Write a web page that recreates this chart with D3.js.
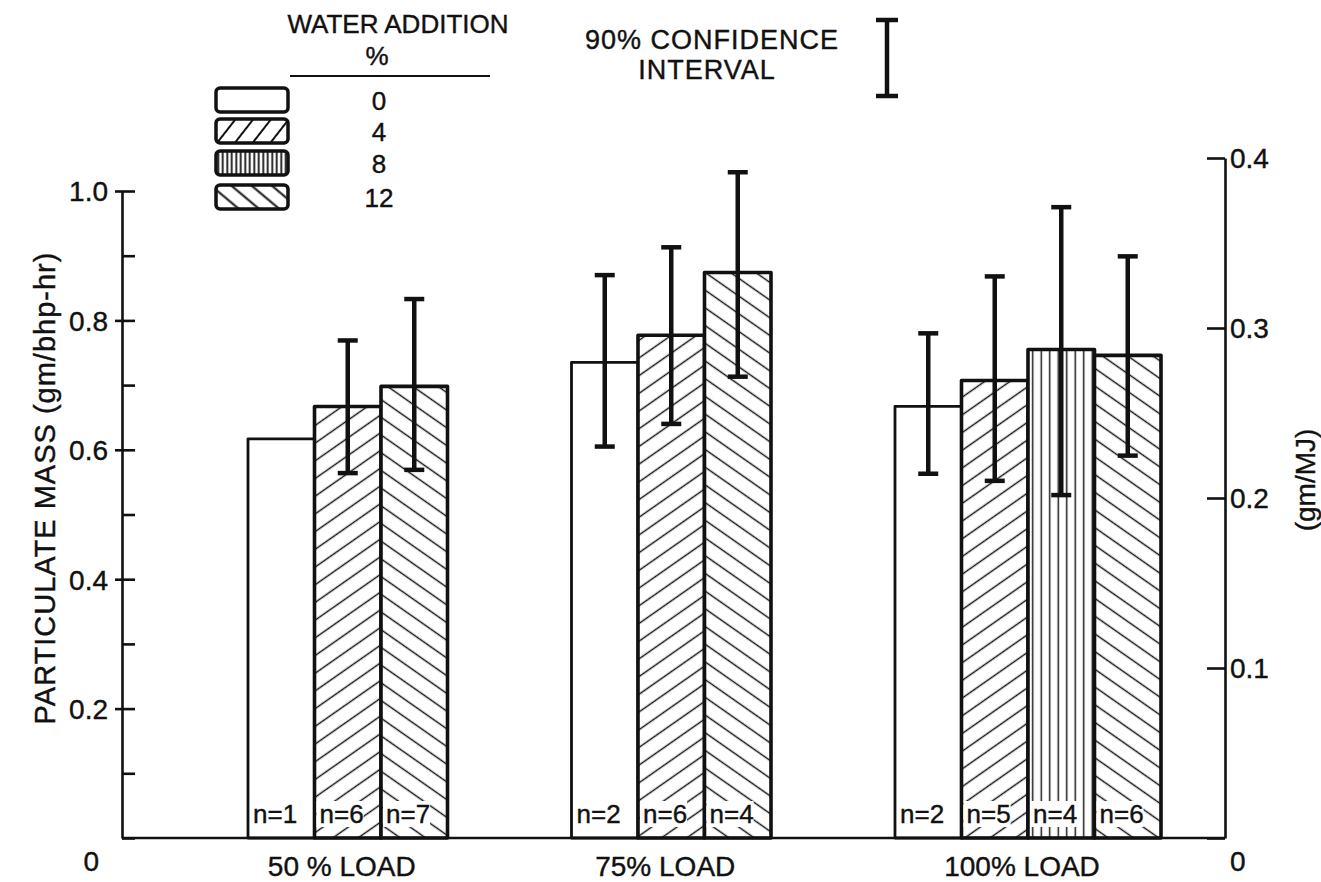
<!DOCTYPE html>
<html><head><meta charset="utf-8">
<script src="https://cdn.jsdelivr.net/npm/d3@7"></script>
<style>
html,body{margin:0;padding:0;background:#fff;}
svg text{font-family:"Liberation Sans",Arial,sans-serif;fill:#111;stroke:#111;stroke-width:0.4px;}
</style></head>
<body><svg id="c" width="1321" height="882"></svg>
<script>
// ---- data ----
const loads = ["50 % LOAD", "75% LOAD", "100% LOAD"];
const waterLevels = ["0", "4", "8", "12"];
const mass0  = [0.617, 0.735, 0.667];
const mass4  = [0.667, 0.777, 0.707];
const mass8  = [null,  null,  0.755];
const mass12 = [0.698, 0.874, 0.746];
const lo0  = [null,  0.605, 0.563], hi0  = [null,  0.870, 0.780];
const lo4  = [0.564, 0.640, 0.552], hi4  = [0.769, 0.913, 0.868];
const lo8  = [null,  null,  0.530], hi8  = [null,  null,  0.975];
const lo12 = [0.569, 0.713, 0.591], hi12 = [0.833, 1.029, 0.899];
const n0  = [1, 2, 2];
const n4  = [6, 6, 5];
const n8  = [null, null, 4];
const n12 = [7, 4, 6];
const leftTicks = [0, 0.2, 0.4, 0.6, 0.8, 1.0];
const leftTickLabels = ["0", "0.2", "0.4", "0.6", "0.8", "1.0"];
const rightTicks = [0, 0.1, 0.2, 0.3, 0.4];
const rightTickLabels = ["0", "0.1", "0.2", "0.3", "0.4"];

const massBy = [mass0, mass4, mass8, mass12];
const loBy = [lo0, lo4, lo8, lo12];
const hiBy = [hi0, hi4, hi8, hi12];
const nBy = [n0, n4, n8, n12];

const svg = d3.select("#c");
const defs = svg.append("defs");
function hatch(id, angle, spacing, sw) {
  const p = defs.append("pattern").attr("id", id).attr("patternUnits", "userSpaceOnUse")
    .attr("width", 40).attr("height", spacing).attr("patternTransform", `rotate(${angle})`);
  p.append("rect").attr("width", 40).attr("height", spacing).attr("fill", "#fff");
  p.append("line").attr("x1", 0).attr("x2", 40).attr("y1", spacing / 2).attr("y2", spacing / 2)
    .attr("stroke", "#111").attr("stroke-width", sw);
}
hatch("p4", -35, 14.5, 1.5);
hatch("p12", 35, 14.5, 1.5);
hatch("p8", 90, 8.5, 1.5);
hatch("lp4", -52, 14, 1.9);
hatch("lp12", 40, 13, 1.9);
hatch("lp8", 90, 4.5, 1.7);
const fills = ["#fff", "url(#p4)", "url(#p8)", "url(#p12)"];
const legendFills = ["#fff", "url(#lp4)", "url(#lp8)", "url(#lp12)"];

// ---- scales ----
const yL = d3.scaleLinear().domain([0, 1]).range([838, 191]);
const yR = d3.scaleLinear().domain([0, 0.4]).range([838, 158]);
const xG = d3.scaleBand().domain(loads).range([248, 1161]).paddingInner(0.1777).paddingOuter(0);
const slot = d3.scaleBand().domain([0, 1, 2, 3]).range([0, xG.bandwidth()]);

const axL = 122, axR = 1225;

// ---- bars ----
const bars = [];
loads.forEach((ld, gi) => {
  let k = 0;
  waterLevels.forEach((w, wi) => {
    const v = massBy[wi][gi];
    if (v == null) return;
    bars.push({ load: ld, gi, wi, k, v, lo: loBy[wi][gi], hi: hiBy[wi][gi], n: nBy[wi][gi] });
    k++;
  });
});
const bx = d => xG(d.load) + slot(d.k);
const bw = slot.bandwidth();

const gBars = svg.append("g");
gBars.selectAll("rect.bar").data(bars).join("rect").attr("class", "bar")
  .attr("x", bx).attr("y", d => yL(d.v)).attr("width", bw).attr("height", d => yL(0) - yL(d.v))
  .attr("fill", d => fills[d.wi]).attr("stroke", "#111")
  .attr("stroke-width", d => d.wi === 0 ? 2.8 : 3.6).attr("stroke-linejoin", "round");

// n labels with white backing
const nl = svg.append("g");
bars.forEach(d => {
  const t = nl.append("text").attr("x", bx(d) + 5).attr("y", 814).attr("dominant-baseline", "central")
    .attr("font-size", 26).text("n=" + d.n);
  const bb = t.node().getBBox();
  nl.insert("rect", "text").attr("x", bx(d) + 2).attr("y", bb.y + 2).attr("width", bb.width + 3)
    .attr("height", bb.height - 4).attr("fill", "#fff");
});

// error bars
const ge = svg.append("g").attr("stroke", "#111").attr("stroke-width", 4.5);
bars.filter(d => d.lo != null).forEach(d => {
  const cx = bx(d) + bw / 2;
  ge.append("line").attr("x1", cx).attr("x2", cx).attr("y1", yL(d.lo)).attr("y2", yL(d.hi));
  ge.append("line").attr("x1", cx - 10).attr("x2", cx + 10).attr("y1", yL(d.lo)).attr("y2", yL(d.lo));
  ge.append("line").attr("x1", cx - 10).attr("x2", cx + 10).attr("y1", yL(d.hi)).attr("y2", yL(d.hi));
});

// ---- axes ----
const gL = svg.append("g").attr("transform", `translate(${axL},0)`);
gL.call(d3.axisLeft(yL).tickValues(d3.range(0, 1.0001, 0.1)).tickSizeInner(-13).tickSizeOuter(0).tickFormat(""));
gL.selectAll("path,line").attr("stroke", "#111").attr("stroke-width", 2.6);
// major ticks cross the axis a little
gL.selectAll(".tick line").attr("x1", (d) => Math.abs(d * 5 - Math.round(d * 5)) < 1e-6 && d > 0 ? -7 : 0);
const gLl = svg.append("g").attr("transform", `translate(${axL},0)`);
gLl.call(d3.axisLeft(yL).tickValues(leftTicks).tickSize(0).tickPadding(14)
  .tickFormat((d, i) => leftTickLabels[i]));
gLl.select("path").remove();
gLl.selectAll("text").attr("font-size", 28).attr("fill", "#111").style("font-family", "Liberation Sans, Arial, sans-serif")
  .attr("dy", (d) => d === 0 ? "1.15em" : "0.35em").attr("dx", (d) => d === 0 ? -9 : 0);

const gR = svg.append("g").attr("transform", `translate(${axR},0)`);
gR.call(d3.axisRight(yR).tickValues(rightTicks).tickSizeInner(-18).tickSizeOuter(0).tickPadding(5)
  .tickFormat((d, i) => rightTickLabels[i]));
gR.selectAll("path,line").attr("stroke", "#111").attr("stroke-width", 2.6);
gR.selectAll("text").attr("font-size", 28).attr("fill", "#111").style("font-family", "Liberation Sans, Arial, sans-serif")
  .attr("dy", (d) => d === 0 ? "1.15em" : "0.35em");

// baseline
svg.append("line").attr("x1", axL).attr("x2", axR).attr("y1", yL(0)).attr("y2", yL(0))
  .attr("stroke", "#111").attr("stroke-width", 2.6);

// group labels centered under present bars
loads.forEach((ld, gi) => {
  const cnt = bars.filter(b => b.gi === gi).length;
  svg.append("text").attr("x", xG(ld) + cnt * bw / 2 - 6).attr("y", 866).attr("text-anchor", "middle")
    .attr("dominant-baseline", "central").attr("font-size", 28).text(ld);
});

// axis titles
svg.append("text").attr("transform", "translate(45,488) rotate(-90)").attr("text-anchor", "middle")
  .attr("dominant-baseline", "central").attr("font-size", 29).attr("letter-spacing", 1)
  .text("PARTICULATE MASS (gm/bhp-hr)");
svg.append("text").attr("transform", "translate(1305,480) rotate(-90)").attr("text-anchor", "middle")
  .attr("dominant-baseline", "central").attr("font-size", 28).text("(gm/MJ)");

// ---- legend ----
svg.append("text").attr("x", 398).attr("y", 24).attr("text-anchor", "middle").attr("dominant-baseline", "central")
  .attr("font-size", 26).text("WATER ADDITION");
svg.append("text").attr("x", 377).attr("y", 56).attr("text-anchor", "middle").attr("dominant-baseline", "central")
  .attr("font-size", 26).text("%");
svg.append("line").attr("x1", 290).attr("x2", 490).attr("y1", 76).attr("y2", 76).attr("stroke", "#111").attr("stroke-width", 2);
const legY = [88, 119, 151, 185];
waterLevels.forEach((w, i) => {
  svg.append("rect").attr("x", 216).attr("y", legY[i]).attr("width", 72).attr("height", 24).attr("rx", 4)
    .attr("fill", legendFills[i]).attr("stroke", "#111").attr("stroke-width", 3.5);
  svg.append("text").attr("x", 379).attr("y", legY[i] + 13).attr("text-anchor", "middle")
    .attr("dominant-baseline", "central").attr("font-size", 26).text(w);
});

// confidence interval key
svg.append("text").attr("x", 712).attr("y", 40).attr("text-anchor", "middle").attr("dominant-baseline", "central")
  .attr("font-size", 27).attr("letter-spacing", 1).text("90% CONFIDENCE");
svg.append("text").attr("x", 707).attr("y", 70).attr("text-anchor", "middle").attr("dominant-baseline", "central")
  .attr("font-size", 27).attr("letter-spacing", 1).text("INTERVAL");
const ci = svg.append("g").attr("stroke", "#111").attr("stroke-width", 4.5);
ci.append("line").attr("x1", 887).attr("x2", 887).attr("y1", 20).attr("y2", 96);
ci.append("line").attr("x1", 876).attr("x2", 898).attr("y1", 20).attr("y2", 20);
ci.append("line").attr("x1", 876).attr("x2", 898).attr("y1", 96).attr("y2", 96);
</script></body></html>
